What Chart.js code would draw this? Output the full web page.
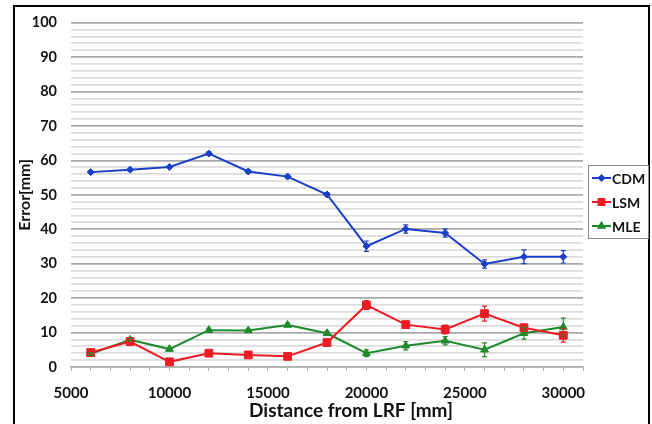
<!DOCTYPE html>
<html>
<head>
<meta charset="utf-8">
<script src="https://cdn.jsdelivr.net/npm/chart.js@4.4.1/dist/chart.umd.min.js"></script>
<style>
  html, body { margin: 0; padding: 0; background: #fff; }
  #wrap { position: relative; width: 652px; height: 424px; }
</style>
</head>
<body>
<div id="wrap"><canvas id="c" width="652" height="424"></canvas></div>
<script>
// ---- data ----
const distances = [6000, 8000, 10000, 12000, 14000, 16000, 18000, 20000, 22000, 24000, 26000, 28000, 30000];
const cdm = [56.6, 57.3, 58.1, 62.0, 56.8, 55.3, 50.1, 35.1, 40.1, 38.9, 29.9, 32.0, 32.0];
const lsm = [4.2, 7.4, 1.5, 4.0, 3.5, 3.1, 7.1, 18.0, 12.3, 10.9, 15.5, 11.4, 9.2];
const mle = [3.8, 7.9, 5.2, 10.7, 10.6, 12.2, 9.8, 4.0, 6.2, 7.6, 5.0, 9.8, 11.6];
const cdmErr = [0.4, 0.4, 0.4, 0.5, 0.4, 0.4, 0.5, 1.5, 1.2, 1.2, 1.2, 2.0, 1.8];
const lsmErr = [0.4, 0.4, 0.4, 0.4, 0.4, 0.4, 0.6, 1.3, 1.0, 1.3, 2.2, 1.0, 2.0];
const mleErr = [0.4, 0.4, 0.4, 0.5, 0.5, 0.5, 0.6, 1.0, 1.2, 1.2, 2.0, 1.7, 2.6];
const seriesNames = ['CDM', 'LSM', 'MLE'];
const xTickLabels = [5000, 10000, 15000, 20000, 25000, 30000];
const yTickLabels = [0, 10, 20, 30, 40, 50, 60, 70, 80, 90, 100];
const xTitle = 'Distance from LRF [mm]';
const yTitle = 'Error[mm]';

const colors = ['#1b3fc6', '#ec1c24', '#1e8a2c'];
const styles = ['rectRot', 'rect', 'triangle'];
const radii = [3.5, 5.5, 4.5];
const FONT = 'Lato, "Open Sans", sans-serif';

const toPts = (arr) => arr.map((v, i) => ({x: distances[i], y: v}));
const seriesVals = [cdm, lsm, mle];
const seriesErrs = [cdmErr, lsmErr, mleErr];

const datasets = seriesNames.map((n, k) => ({
  label: n,
  data: toPts(seriesVals[k]),
  errors: seriesErrs[k],
  borderColor: colors[k],
  backgroundColor: colors[k],
  borderWidth: 2,
  pointStyle: styles[k],
  pointRadius: radii[k],
  pointBorderWidth: 1,
  pointBackgroundColor: colors[k],
  pointBorderColor: colors[k],
  tension: 0
}));

const errorBars = {
  id: 'errorBars',
  afterDatasetsDraw(chart) {
    const ctx = chart.ctx;
    const ys = chart.scales.y, xs = chart.scales.x;
    chart.data.datasets.forEach((ds) => {
      ctx.save();
      ctx.strokeStyle = ds.borderColor;
      ctx.lineWidth = 1.2;
      ds.data.forEach((p, i) => {
        const e = ds.errors[i];
        const px = xs.getPixelForValue(p.x);
        const y1 = ys.getPixelForValue(p.y + e);
        const y2 = ys.getPixelForValue(p.y - e);
        ctx.beginPath();
        ctx.moveTo(px, y1); ctx.lineTo(px, y2);
        ctx.moveTo(px - 2.5, y1); ctx.lineTo(px + 2.5, y1);
        ctx.moveTo(px - 2.5, y2); ctx.lineTo(px + 2.5, y2);
        ctx.stroke();
      });
      ctx.restore();
    });
  }
};

const decor = {
  id: 'decor',
  afterDraw(chart) {
    const ctx = chart.ctx;
    const a = chart.chartArea;
    ctx.save();
    // outer frame
    ctx.strokeStyle = '#000';
    ctx.lineWidth = 2;
    ctx.strokeRect(14, 6, 635, 440);
    // x-axis title
    ctx.fillStyle = '#111';
    ctx.font = 'bold 19px ' + FONT;
    ctx.textAlign = 'center';
    ctx.textBaseline = 'middle';
    ctx.fillText(xTitle, (a.left + a.right) / 2 + 24, 411);
    // legend
    const lx = 588.5, ly = 165.5, lw = 60, lh = 73;
    ctx.strokeStyle = '#8c8c8c';
    ctx.lineWidth = 1;
    ctx.strokeRect(lx, ly, lw, lh);
    ctx.font = 'bold 14px ' + FONT;
    ctx.textAlign = 'left';
    chart.data.datasets.forEach((ds, k) => {
      const y = 178 + k * 24;
      ctx.strokeStyle = ds.borderColor;
      ctx.lineWidth = 2;
      ctx.beginPath();
      ctx.moveTo(592, y); ctx.lineTo(611, y);
      ctx.stroke();
      ctx.fillStyle = ds.borderColor;
      Chart.helpers.drawPoint(ctx, {pointStyle: ds.pointStyle, radius: ds.pointRadius * 0.75, borderWidth: 1}, 601.5, y);
      ctx.fillStyle = '#111';
      ctx.fillText(ds.label, 612, y + 1);
    });
    ctx.restore();
  }
};

new Chart(document.getElementById('c'), {
  type: 'line',
  data: { datasets },
  plugins: [errorBars, decor],
  options: {
    responsive: false,
    animation: false,
    devicePixelRatio: 1,
    layout: { padding: { left: 14, top: 16, right: 69, bottom: 0 } },
    plugins: { legend: { display: false }, tooltip: { enabled: false } },
    scales: {
      x: {
        type: 'linear',
        min: 5000, max: 31000,
        afterFit(s) { s.height = 57; },
        afterBuildTicks(s) {
          const t = [];
          for (let v = 5000; v <= 31000; v += 1000) t.push({value: v});
          s.ticks = t;
        },
        ticks: {
          autoSkip: false, maxRotation: 0, padding: 13,
          color: '#111',
          font: { family: FONT, size: 15, weight: 'bold' },
          callback: (v) => xTickLabels.includes(v) ? String(v) : ''
        },
        grid: { drawOnChartArea: false, drawTicks: true, tickLength: 4, color: '#b0b0b0', lineWidth: 1 },
        border: { display: true, color: '#b0b0b0', width: 1.5 }
      },
      y: {
        min: 0, max: 100,
        afterFit(s) { s.width = 57; },
        ticks: {
          stepSize: 2, autoSkip: false, padding: 14,
          color: '#111',
          font: { family: FONT, size: 14.5, weight: 'bold' },
          callback: (v) => yTickLabels.includes(v) ? String(v) : ''
        },
        grid: {
          drawTicks: false,
          color: (c) => (c.tick && c.tick.value % 10 === 0) ? '#a8a8a8' : '#dcdcdc',
          lineWidth: 1.8
        },
        border: { display: false },
        title: {
          display: true, text: yTitle, color: '#111',
          font: { family: FONT, size: 16, weight: 'bold' },
          padding: { top: 1, bottom: 0 }
        }
      }
    }
  }
});
</script>
</body>
</html>
